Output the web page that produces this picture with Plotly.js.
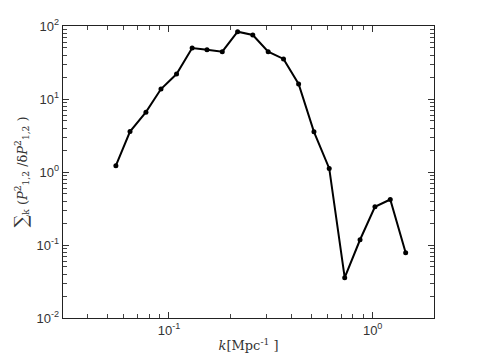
<!DOCTYPE html>
<html>
<head>
<meta charset="utf-8">
<script src="https://cdn.plot.ly/plotly-3.0.1.min.js"></script>
<style>body{margin:0;background:#fff}#plot{width:480px;height:360px}</style>
</head>
<body>
<div id="plot"></div>
<script>
// wavenumber k [Mpc^-1]
const k_vals = [0.0549, 0.0644, 0.0771, 0.0914, 0.109, 0.130, 0.1537, 0.1827, 0.2173, 0.258,
                0.307, 0.365, 0.433, 0.515, 0.612, 0.729, 0.867, 1.026, 1.22, 1.452]
// summed ratio
const ratio_vals = [1.22, 3.58, 6.6, 13.7, 22.0, 50.0, 47.4, 44.5, 83.6, 75.3,
                    44.5, 35.4, 16.1, 3.55, 1.12, 0.0357, 0.118, 0.334, 0.42, 0.0785]

const x_ticks = [0.1, 1]
const x_labels = ['10<sup>-1</sup>', '10<sup>0</sup>']
const y_ticks = [0.01, 0.1, 1, 10, 100]
const y_labels = ['10<sup>-2</sup>', '10<sup>-1</sup>', '10<sup>0</sup>', '10<sup>1</sup>', '10<sup>2</sup>']

function minorTicks(decades){
  let out = []
  for (const d of decades){
    for (let m = 2; m <= 9; m++) out.push(m * d)
  }
  return out
}
const x_minor = minorTicks([0.01, 0.1, 1])
const y_minor = minorTicks([0.01, 0.1, 1, 10])

const trace = {
  x: k_vals,
  y: ratio_vals,
  type: 'scatter',
  mode: 'lines+markers',
  line: {color: '#000', width: 2},
  marker: {color: '#000', size: 5},
  showlegend: false
}

const axis_common = {
  type: 'log',
  showgrid: false,
  zeroline: false,
  showline: true,
  linecolor: '#222',
  linewidth: 1.3,
  mirror: 'ticks',
  ticks: 'inside',
  ticklen: 6,
  tickwidth: 1,
  tickcolor: '#333',
  tickfont: {family: 'Liberation Sans, Arial, sans-serif', size: 13, color: '#333'}
}

const layout = {
  width: 480,
  height: 360,
  margin: {l: 63, r: 46, t: 26, b: 42},
  paper_bgcolor: '#fff',
  plot_bgcolor: '#fff',
  xaxis: Object.assign({}, axis_common, {
    range: [Math.log10(0.0302), Math.log10(2.0)],
    tickvals: x_ticks,
    ticktext: x_labels,
    minor: {tickmode: 'array', tickvals: x_minor, ticks: 'inside', ticklen: 4, tickcolor: '#444', showgrid: false},
    title: {text: '<i>k</i>[Mpc<sup>-1</sup> ]', font: {family: 'DejaVu Serif, serif', size: 13, color: '#333'}, standoff: 4}
  }),
  yaxis: Object.assign({}, axis_common, {
    range: [-2, 2],
    tickvals: y_ticks,
    ticktext: y_labels,
    minor: {tickmode: 'array', tickvals: y_minor, ticks: 'inside', ticklen: 4, tickcolor: '#444', showgrid: false},
    title: {text: '<span style="font-size:18px">∑</span><sub>k</sub> (<i>P</i><sup>2</sup><sub>1,2</sub> /δ<i>P</i><sup>2</sup><sub>1,2</sub> )', font: {family: 'DejaVu Serif, serif', size: 13, color: '#333'}, standoff: 6}
  })
}

Plotly.newPlot('plot', [trace], layout, {displayModeBar: false, staticPlot: true})
</script>
</body>
</html>
